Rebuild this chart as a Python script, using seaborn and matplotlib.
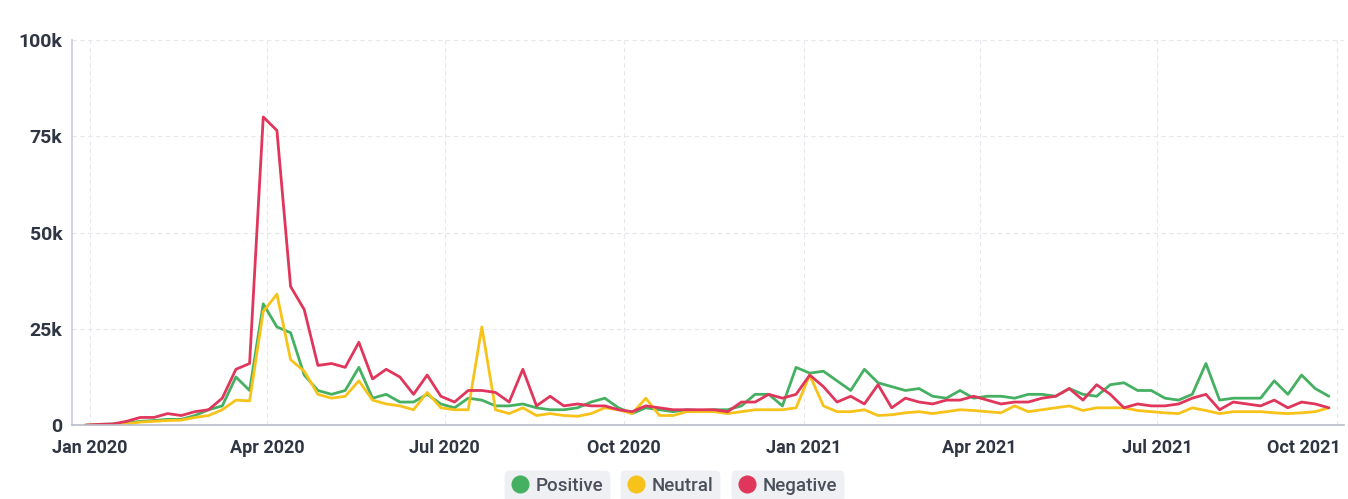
import pandas as pd
import seaborn as sns
import matplotlib.pyplot as plt
import matplotlib.dates as mdates
from matplotlib.lines import Line2D
from matplotlib.ticker import FuncFormatter

# weekly mentions (thousands), starting week of 2019-12-30
weeks = pd.date_range('2019-12-30', periods=92, freq='7D')

positive = [0, 0.2, 0.3, 0.5, 1, 1.2, 1.5, 1.5, 2.5, 4,
            5, 12.5, 9, 31.5, 25.5, 24, 13, 9, 8, 9,
            15, 7, 8, 6, 6, 8, 5.5, 4.5, 7, 6.5,
            5, 5, 5.5, 4.5, 4, 4, 4.5, 6, 7, 4.5,
            3, 4.5, 4, 3.5, 4, 3.8, 4, 4, 5, 8,
            8, 5, 15, 13.5, 14, 11.5, 9, 14.5, 11, 10,
            9, 9.5, 7.5, 7, 9, 7, 7.5, 7.5, 7, 8,
            8, 7.5, 9.5, 8, 7.5, 10.5, 11, 9, 9, 7,
            6.5, 8, 16, 6.5, 7, 7, 7, 11.5, 8, 13,
            9.5, 7.5]
neutral = [0, 0.1, 0.2, 0.3, 0.8, 1, 1.2, 1.3, 2, 2.5,
           4, 6.5, 6.3, 29.5, 34, 17, 14, 8, 7, 7.5,
           11.5, 6.5, 5.5, 5, 4, 8.5, 4.5, 4, 4, 25.5,
           4, 3, 4.5, 2.5, 3, 2.5, 2.3, 3, 4.5, 4,
           3, 7, 2.5, 2.5, 3.5, 3.5, 3.5, 3, 3.5, 4,
           4, 4, 4.5, 13, 5, 3.5, 3.5, 4, 2.5, 2.7,
           3.2, 3.5, 3, 3.5, 4, 3.8, 3.5, 3.2, 5, 3.5,
           4, 4.5, 5, 3.8, 4.5, 4.5, 4.5, 3.8, 3.5, 3.2,
           3, 4.5, 3.8, 3, 3.5, 3.5, 3.5, 3.2, 3, 3.2,
           3.5, 4.5]
negative = [0, 0.2, 0.3, 1, 2, 2, 3, 2.5, 3.5, 4,
            7, 14.5, 16, 80, 76.5, 36, 30, 15.5, 16, 15,
            21.5, 12, 14.5, 12.5, 8, 13, 7.5, 6, 9, 9,
            8.5, 6, 14.5, 5, 7.5, 5, 5.5, 5, 5, 4,
            3.5, 5, 4.5, 4, 4, 4, 4, 3.5, 6, 6,
            8, 7, 8, 13, 10, 6, 7.5, 5.5, 10.5, 4.5,
            7, 6, 5.5, 6.5, 6.5, 7.5, 6.5, 5.5, 6, 6,
            7, 7.5, 9.5, 6.5, 10.5, 8, 4.5, 5.5, 5, 5,
            5.5, 7, 8, 4, 6, 5.5, 5, 6.5, 4.5, 6,
            5.5, 4.5]

series = ['Positive', 'Neutral', 'Negative']
colors = ['#45b062', '#f7c31a', '#e0365c']

df = pd.DataFrame({'week': weeks, 'Positive': positive,
                   'Neutral': neutral, 'Negative': negative})
long = df.melt(id_vars='week', var_name='sentiment', value_name='k')
long['mentions'] = long['k'] * 1000

sns.set_style('white')
plt.rcParams['font.family'] = ['Roboto', 'DejaVu Sans']

fig = plt.figure(figsize=(13.48, 4.99), dpi=100)
ax = fig.add_axes([0.0534, 0.148, 0.944, 0.772])

sns.lineplot(data=long, x='week', y='mentions', hue='sentiment',
             hue_order=series, palette=colors, linewidth=2.0,
             legend=False, ax=ax)

ax.set_xlim(pd.Timestamp('2019-12-23'), pd.Timestamp('2021-10-05'))
ax.set_ylim(0, 100000)
ax.set_yticks([0, 25000, 50000, 75000, 100000])
ax.yaxis.set_major_formatter(FuncFormatter(
    lambda v, p: '0' if v == 0 else f'{int(v / 1000)}k'))
ax.xaxis.set_major_locator(mdates.MonthLocator(bymonth=[1, 4, 7, 10]))
ax.xaxis.set_major_formatter(mdates.DateFormatter('%b %Y'))

ax.set_xlabel('')
ax.set_ylabel('')
ax.grid(True, color='#e6e8ee', linestyle=(0, (4, 3)), linewidth=0.8)
for s in ['top', 'right']:
    ax.spines[s].set_visible(False)
ax.spines['left'].set_color('#c9cbe0')
ax.spines['bottom'].set_color('#b8bccb')
ax.spines['left'].set_linewidth(1.2)
ax.spines['bottom'].set_linewidth(1.2)

ax.tick_params(axis='y', length=0, pad=7, labelsize=14,
               labelcolor='#2f3542')
ax.tick_params(axis='x', length=7, width=1, color='#b8bccb', pad=3,
               labelsize=13, labelcolor='#2f3542')
for t in ax.get_xticklabels() + ax.get_yticklabels():
    t.set_fontweight('bold')

# keep the last date label inside the figure
fig.canvas.draw()
xlabels = ax.get_xticklabels()
xlabels[-1].set_horizontalalignment('right')
xlabels[-1].set_x(xlabels[-1].get_position()[0])
last = xlabels[-1]
from matplotlib.transforms import ScaledTranslation
last.set_transform(last.get_transform() + ScaledTranslation(0.04, 0, fig.dpi_scale_trans))

# pill-style legend entries
centers = [0.413, 0.497, 0.584]
for name, col, cx in zip(series, colors, centers):
    h = Line2D([], [], marker='o', linestyle='', markersize=12,
               markerfacecolor=col, markeredgecolor=col)
    leg = fig.legend([h], [name], loc='center', bbox_to_anchor=(cx, 0.026),
                     frameon=True, fancybox=True, handletextpad=0.35,
                     borderpad=0.3, handlelength=1.0, fontsize=13.5,
                     borderaxespad=0)
    leg.get_frame().set_facecolor('#eef0f3')
    leg.get_frame().set_edgecolor('#eef0f3')
    leg.get_frame().set_alpha(1)
    for t in leg.get_texts():
        t.set_color('#4a505c')
        t.set_fontweight('medium')
    fig.add_artist(leg)

fig.savefig('out.png', dpi=100, facecolor='white')
